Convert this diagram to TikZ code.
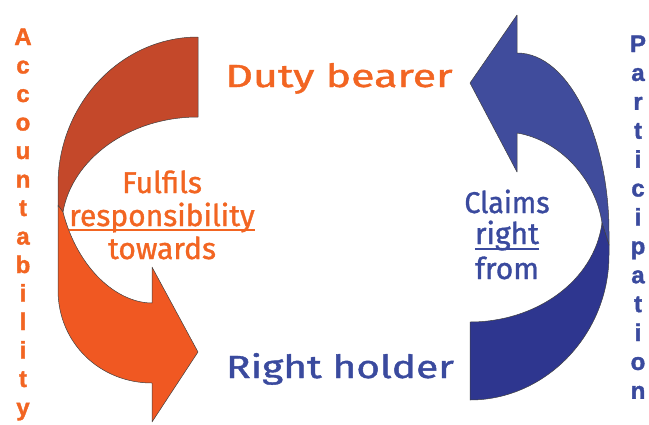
\documentclass[tikz,border=0pt]{standalone}
\usepackage{fontspec}
\newfontfamily\roundfont[FakeBold=1.2]{Fira Sans}
\newfontfamily\heavyfont[FakeBold=1.5]{Liberation Sans Bold}
\definecolor{orangeback}{HTML}{C4482A}
\definecolor{orangefront}{HTML}{F05822}
\definecolor{orangetext}{HTML}{F26522}
\definecolor{blueback}{HTML}{2E368F}
\definecolor{bluefront}{HTML}{404C9C}
\definecolor{bluetext}{HTML}{3A4A9E}
\begin{document}
\begin{tikzpicture}[x=1pt,y=-1pt,
  ribbon/.style={draw=black!75,line width=0.5pt,line join=round},
  bigword/.style={font=\roundfont\fontsize{32}{32}\selectfont,inner sep=0pt,anchor=base},
  midword/.style={font=\roundfont\fontsize{30}{30}\selectfont,inner sep=0pt,anchor=base},
  vletter/.style={font=\heavyfont\fontsize{24}{24}\selectfont,inner sep=0pt,anchor=base},
  uline/.style={line width=1.6pt}]
\useasboundingbox (0,0) rectangle (649,424);

% left ribbon: back face (upper part)
\path[ribbon,fill=orangeback]
  (198,37) .. controls (121,37) and (58,104) .. (58,185)
  -- (58,207) -- (63,212)
  .. controls (72,160) and (128,117) .. (198,117) -- cycle;
% left ribbon: front face with arrow head
\path[ribbon,fill=orangefront]
  (63,212) -- (58,205) -- (58,290)
  .. controls (58,343) and (100,383) .. (152,383)
  -- (152,422) -- (198,352) -- (152,267) -- (152,303)
  .. controls (118,303) and (78,270) .. (63,212) -- cycle;

% right ribbon: front face with arrow head
\path[ribbon,fill=bluefront]
  (517,53) -- (517,15) -- (470,83) -- (517,172) -- (517,133)
  .. controls (560,140) and (596,180) .. (602,223)
  -- (609,245) -- (609,232)
  .. controls (609,140) and (570,53) .. (517,53) -- cycle;
% right ribbon: back face (lower part)
\path[ribbon,fill=blueback]
  (602,223) -- (609,245) -- (609,255)
  .. controls (609,334) and (546,400) .. (470,400)
  -- (470,322)
  .. controls (535,322) and (594,282) .. (602,223) -- cycle;

% role labels
\node[bigword,text=orangetext] (duty) at (339,87) {\scalebox{1.34}[1]{Duty bearer}};
\node[bigword,text=bluetext] (holder) at (340,378) {\scalebox{1.27}[1]{Right holder}};

% relation on the left
\node[midword,text=orangetext] (fulfils) at (162,193) {Fulfils};
\node[midword,text=orangetext] (resp) at (162,226) {responsibility};
\node[midword,text=orangetext] (towards) at (162,259) {towards};
\draw[uline,orangetext] ([yshift=-4pt]resp.base west) -- ([yshift=-4pt]resp.base east);

% relation on the right
\node[midword,text=bluetext] (claims) at (507,213) {\scalebox{0.95}[1]{Claims}};
\node[midword,text=bluetext] (right) at (507,244) {right};
\node[midword,text=bluetext] (from) at (507,279) {from};
\draw[uline,bluetext] ([yshift=-5pt]right.base west) -- ([yshift=-5pt]right.base east);

% vertical words
\foreach \ch [count=\i from 0] in {A,c,c,o,u,n,t,a,b,i,l,i,t,y}
  \node[vletter,text=orangetext] (acc\i) at (23,{45+\i*28.5}) {\ch};
\foreach \ch [count=\i from 0] in {P,a,r,t,i,c,i,p,a,t,i,o,n}
  \node[vletter,text=bluetext] (par\i) at (638,{52+\i*28.9}) {\ch};
\end{tikzpicture}
\end{document}
